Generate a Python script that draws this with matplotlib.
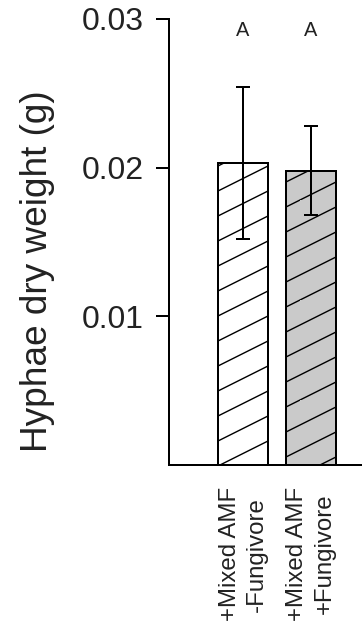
import matplotlib
matplotlib.use("Agg")
import numpy as np
import matplotlib.pyplot as plt
from matplotlib import hatch as mhatch
from matplotlib.path import Path

# hyphae dry weight per treatment, mean and error
groups = ['+Mixed AMF\n-Fungivore', '+Mixed AMF\n+Fungivore']
means = [0.0203, 0.0198]
errs = [0.0051, 0.0030]
letters = ['A', 'A']
fills = ['white', '#cacaca']
yticks = [0.01, 0.02, 0.03]

DPI = 100
PX = 72 / DPI      # points per pixel


class ShallowHatch(mhatch.HatchPatternBase):
    """'/' hatch drawn at a slope of 1/2, four lines per tile."""
    def __init__(self, hatch, density):
        n = 4 * hatch.count('/')
        self.offsets = np.arange(-0.5, 1.0, 1 / n) if n else np.array([])
        self.num_vertices = 2 * len(self.offsets)

    def set_vertices_and_codes(self, vertices, codes):
        vertices[0::2, 0] = 0.0
        vertices[0::2, 1] = self.offsets
        vertices[1::2, 0] = 1.0
        vertices[1::2, 1] = self.offsets + 0.5
        codes[0::2] = Path.MOVETO
        codes[1::2] = Path.LINETO


mhatch._hatch_types = [ShallowHatch if h is mhatch.NorthEastHatch else h
                       for h in mhatch._hatch_types]

plt.rcParams['font.family'] = ['Liberation Sans', 'DejaVu Sans']
plt.rcParams['hatch.linewidth'] = 1.4 * PX
plt.rcParams['hatch.color'] = 'black'

fig = plt.figure(figsize=(362 / DPI, 629 / DPI), dpi=DPI)
ax = fig.add_axes([169 / 362, 1 - 465 / 629, 193 / 362, 446 / 629])

x = list(range(len(groups)))
ax.bar(x, means, width=0.735, color=fills, edgecolor='black',
       linewidth=2 * PX, hatch='/', zorder=2)
ax.errorbar(x, means, yerr=errs, fmt='none', ecolor='black',
            elinewidth=2 * PX, capsize=7 * PX, capthick=2 * PX, zorder=3)

for xi, lab in zip(x, letters):
    ax.text(xi, 0.0292, lab, ha='center', va='center',
            fontsize=20 * PX, color='#222222')

ax.set_xlim(-1.09, 1.75)
ax.set_ylim(0, 0.03)
ax.set_yticks(yticks)
ax.set_yticklabels(['%.2f' % t for t in yticks], fontsize=32 * PX, color='#222222')
ax.set_xticks(x)
ax.set_xticklabels(groups, rotation=90, fontsize=24 * PX, ha='center',
                   va='top', multialignment='center', linespacing=1.3,
                   color='#222222')

ax.tick_params(axis='y', direction='out', length=13 * PX, width=2 * PX, pad=12 * PX)
ax.tick_params(axis='x', length=0, pad=22 * PX)

for side in ['top', 'right']:
    ax.spines[side].set_visible(False)
for side in ['left', 'bottom']:
    ax.spines[side].set_linewidth(2 * PX)

ax.set_ylabel('Hyphae dry weight (g)', fontsize=37 * PX, color='#222222')
ax.yaxis.set_label_coords(-0.59, 0.435)

fig.savefig('out.png', dpi=DPI)
